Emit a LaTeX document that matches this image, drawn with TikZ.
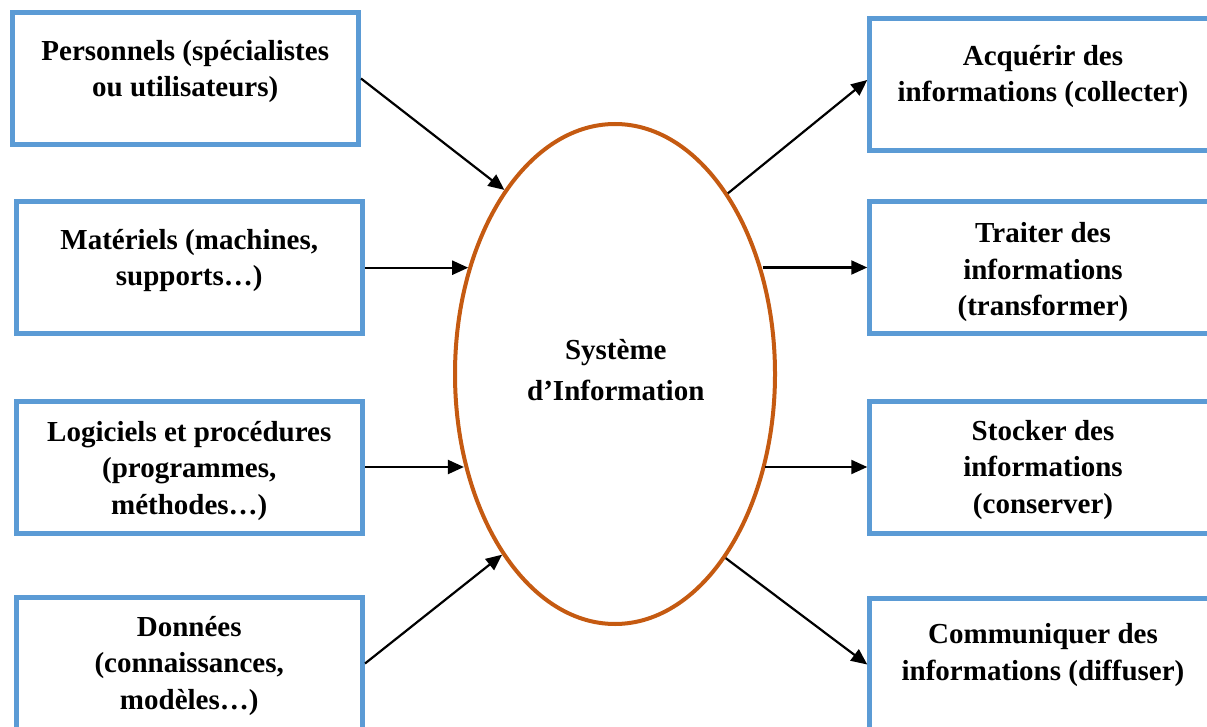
\documentclass[tikz,border=0pt]{standalone}
\usepackage{fontspec}
\setmainfont{Liberation Serif}
\usetikzlibrary{shapes.geometric,arrows.meta}
\definecolor{boxblue}{HTML}{5B9BD5}
\definecolor{siorange}{HTML}{C55A11}
\tikzset{
  inbox/.style={rectangle, draw=boxblue, line width=5pt, minimum width=346.5pt,
    minimum height=132pt, inner sep=0pt},
  boxtext/.style={align=center, inner sep=0pt, anchor=base,
    font={\fontsize{29}{36.5}\selectfont\bfseries}},
  flow/.style={line width=2.2pt, -{Triangle[length=16pt,width=14pt]}},
}
\begin{document}
\begin{tikzpicture}[x=1pt,y=-1pt]
\useasboundingbox (0,0) rectangle (1207,727);
\clip (0,0) rectangle (1207,727);

% resources feeding the system
\node[inbox] (b1) at (185.25,78.5) {};
\node[inbox] (b2) at (189.25,267.7) {};
\node[inbox] (b3) at (189.25,467) {};
\node[inbox] (b4) at (189.25,663.5) {};

% functions of the system
\node[inbox] (bA) at (1043,84.25) {};
\node[inbox] (bB) at (1043,267.5) {};
\node[inbox] (bC) at (1043,467) {};
\node[inbox] (bD) at (1043,664.5) {};

% the information system itself
\node[ellipse, draw=siorange, line width=4pt, minimum width=320pt,
  minimum height=500pt, inner sep=0pt] (si) at (615,374) {};
\node[align=center, inner sep=0pt, anchor=base,
  font={\fontsize{29}{40.7}\selectfont\bfseries}] (sitext) at (615.8,400)
  {Système\\d’Information};

% box labels
\node[boxtext] (t1) at (185.25,97) {Personnels (spécialistes\\ou utilisateurs)};
\node[boxtext] (t2) at (189.25,285.7) {Matériels (machines,\\supports…)};
\node[boxtext] (t3) at (189.25,514) {Logiciels et procédures\\(programmes,\\méthodes…)};
\node[boxtext] (t4) at (189.25,709.3) {Données\\(connaissances,\\modèles…)};
\node[boxtext] (tA) at (1043,101.7) {Acquérir des\\informations (collecter)};
\node[boxtext] (tB) at (1043,316) {Traiter des\\informations\\(transformer)};
\node[boxtext] (tC) at (1043,513.3) {Stocker des\\informations\\(conserver)};
\node[boxtext] (tD) at (1043,680) {Communiquer des\\informations (diffuser)};

% inputs
\draw[flow] (b1.east) -- (si.121);
\draw[flow] (b2.east) -- (b2.east -| si.144.04);
\draw[flow] (b3.east) -- (b3.east -| si.211.7);
\draw[flow] (b4.east) -- (si.238.2);

% outputs
\draw[flow] (si.58.7) -- ([yshift=4.25pt]bA.west);
\draw[flow] (bB.west -| si.35.96) -- (bB.west);
\draw[flow] (bC.west -| si.328.3) -- (bC.west);
\draw[flow] (si.301.5) -- (bD.west);
\end{tikzpicture}
\end{document}
